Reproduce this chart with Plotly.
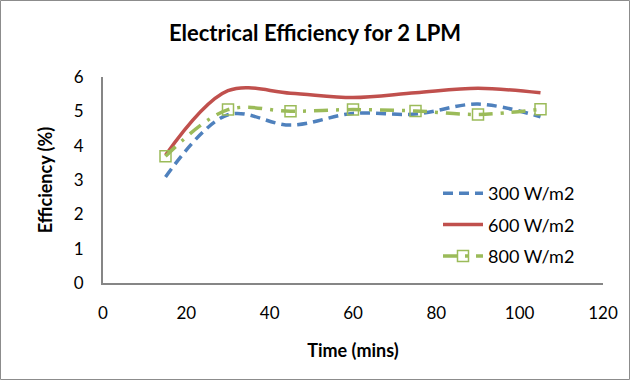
import plotly.graph_objects as go

time_min = [15, 30, 45, 60, 75, 90, 105]
eff_300 = [3.09, 4.90, 4.60, 4.94, 4.92, 5.21, 4.84]
eff_600 = [3.72, 5.60, 5.53, 5.40, 5.54, 5.67, 5.54]
eff_800 = [3.69, 5.05, 5.00, 5.05, 5.01, 4.91, 5.06]

x_ticks = [0, 20, 40, 60, 80, 100, 120]
y_ticks = [0, 1, 2, 3, 4, 5, 6]

FONT = "Lato, 'Open Sans', sans-serif"
W, H = 630, 380
L, R, T, B = 103, 27, 77, 97
PW, PH = W - L - R, H - T - B

fig = go.Figure()
fig.add_trace(go.Scatter(
    x=time_min, y=eff_300, name="300 W/m2", mode="lines", legendgroup="g1",
    line=dict(color="#4F81BD", width=3.5, dash="10px,6px", shape="spline", smoothing=1.0),
))
fig.add_trace(go.Scatter(
    x=time_min, y=eff_600, name="600 W/m2", mode="lines", legendgroup="g2",
    line=dict(color="#C0504D", width=3.5, shape="spline", smoothing=1.0),
))
fig.add_trace(go.Scatter(
    x=time_min, y=eff_800, name="800 W/m2", mode="lines+markers", legendgroup="g3",
    line=dict(color="#9BBB59", width=3.5, dash="14px,8px,3px,8px", shape="spline", smoothing=1.0),
    marker=dict(symbol="square-open", size=11, color="#9BBB59", line=dict(width=1.5, color="#9BBB59")),
))

axis_common = dict(
    showgrid=False, zeroline=False, showline=True, linecolor="#868686", linewidth=2,
    ticks="", tickfont=dict(family=FONT, size=17, color="#000"),
)
fig.update_xaxes(range=[0, 120], tickvals=x_ticks,
                 title=dict(text="<b>Time (mins)</b>", font=dict(family=FONT, size=18, color="#000"), standoff=22),
                 ticklabelstandoff=14, **axis_common)
fig.update_yaxes(range=[0, 6], tickvals=y_ticks,
                 title=dict(text="<b>Efficiency (%)</b>", font=dict(family=FONT, size=18, color="#000"), standoff=16),
                 ticklabelstandoff=14, **axis_common)

fig.update_layout(
    width=W, height=H,
    margin=dict(l=L, r=R, t=T, b=B),
    paper_bgcolor="white", plot_bgcolor="white",
    title=dict(text="<b>Electrical Efficiency for 2 LPM</b>", x=(315 - L) / PW, xref="paper", xanchor="center",
               y=1 - 33 / H, yanchor="middle", font=dict(family=FONT, size=22, color="#000")),
    legend=dict(x=(438 - L) / PW, y=(T + PH - 175) / PH, xanchor="left", yanchor="top",
                font=dict(family=FONT, size=18, color="#000"), bgcolor="rgba(0,0,0,0)",
                traceorder="grouped", tracegroupgap=5, itemwidth=40),
    showlegend=True,
    shapes=[dict(type="rect", xref="paper", yref="paper",
                 x0=-(L - 0.5) / PW, x1=(W - 0.5 - L) / PW,
                 y0=-(B - 0.5) / PH, y1=(H - 0.5 - B) / PH,
                 line=dict(color="#8C8C8C", width=1), fillcolor="rgba(0,0,0,0)", layer="below")],
)

fig.write_html("out.html")
